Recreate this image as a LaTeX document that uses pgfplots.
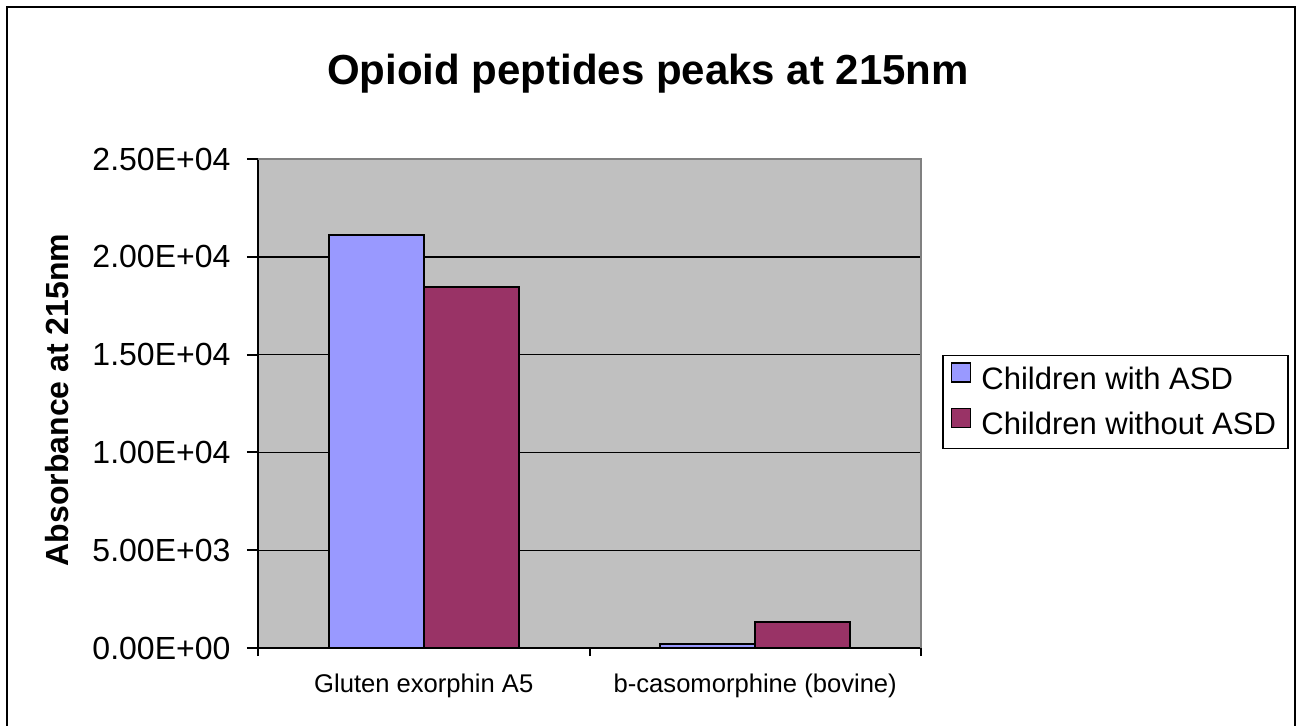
\documentclass[border=0pt]{standalone}
\usepackage{pgfplots}
\pgfplotsset{compat=1.18}
\usepackage{fontspec}
\setmainfont{Liberation Sans}

\definecolor{asdblue}{HTML}{9999FF}
\definecolor{noasd}{HTML}{993366}
\definecolor{plotgray}{HTML}{C0C0C0}
\definecolor{plotborder}{HTML}{808080}

\begin{document}
\begin{tikzpicture}
% page = 1297x725 px at 0.5pt per px
\useasboundingbox (0pt,0pt) rectangle (648.5pt,-362.5pt);
\draw[line width=1pt] (3.4pt,-380pt) -- (3.4pt,-3.65pt) -- (647.5pt,-3.65pt) -- (647.5pt,-380pt);

\node[font=\bfseries\fontsize{21}{25}\selectfont, anchor=base] at (324pt,-42pt) {Opioid peptides peaks at 215nm};
\node[rotate=90, font=\bfseries\fontsize{16}{19}\selectfont] at (28.5pt,-200pt) {Absorbance at 215nm};

\begin{axis}[
    at={(129pt,-324pt)}, anchor=south west,
    scale only axis,
    width=331.5pt, height=244.5pt,
    xmin=-0.5, xmax=1.5,
    ymin=0, ymax=25000,
    clip=false,
    scaled y ticks=false,
    axis x line*=bottom, axis y line*=left,
    axis line style={-, line width=1pt, black},
    axis background/.style={fill=plotgray},
    ybar=0pt, bar width=47.5pt,
    ytick={0,5000,...,25000},
    yticklabels={0.00E+00,5.00E+03,1.00E+04,1.50E+04,2.00E+04,2.50E+04},
    yticklabel style={font=\fontsize{16}{19}\selectfont, xshift=-6pt},
    ymajorgrids=true,
    grid style={black, line width=0.7pt},
    xtick={-0.5,0.5,1.5}, xticklabels={},
    tick align=outside,
    xtick style={/pgfplots/major tick length=4pt, black, line width=1pt},
    ytick style={/pgfplots/major tick length=5.5pt, black, line width=1pt},
    legend style={at={(rel axis cs:1.0317,0.503)}, anchor=west,
        draw=black, line width=0.8pt, fill=white,
        font=\fontsize{15.5}{18}\selectfont, row sep=5.5pt,
        inner xsep=4pt, inner ysep=3.5pt},
    legend cell align=left,
    legend image code/.code={\draw[#1, line width=0.8pt] (0pt,-1.2pt) rectangle (9.5pt,8.3pt); \path (12.5pt,0pt);},
]

\addplot[fill=asdblue, draw=black, line width=0.8pt]
  coordinates {(0,21100) (1,200)};
\addplot[fill=noasd, draw=black, line width=0.8pt]
  coordinates {(0,18450) (1,1330)};

\legend{Children with ASD, Children without ASD}

\draw[draw=plotborder, line width=1pt] (rel axis cs:0,1) -- (rel axis cs:1,1) -- (rel axis cs:1,0);

\node[anchor=base, yshift=-22pt, font=\fontsize{12.8}{15}\selectfont] at (axis cs:0,0) {Gluten exorphin A5};
\node[anchor=base, yshift=-22pt, font=\fontsize{12.8}{15}\selectfont] at (axis cs:1,0) {b-casomorphine (bovine)};
\end{axis}
\end{tikzpicture}
\end{document}
